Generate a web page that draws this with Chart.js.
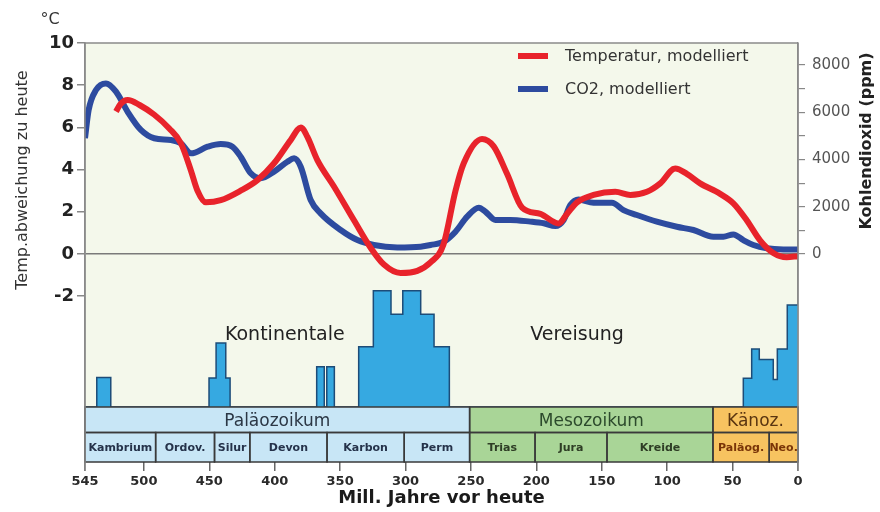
<!DOCTYPE html>
<html>
<head>
<meta charset="utf-8">
<script src="https://cdn.jsdelivr.net/npm/chart.js@4/dist/chart.umd.min.js"></script>
<style>
  html, body { margin: 0; padding: 0; background: #ffffff; }
  #wrap { width: 880px; height: 512px; }
</style>
</head>
<body>
<div id="wrap"><canvas id="chart" width="880" height="512"></canvas></div>
<script>
// Modelled temperature deviation from today (°C), millions of years before present
const tempAge   = [521.3, 518, 512.4, 503, 492, 480.6, 471.7, 464, 459, 452.6, 441.2, 426, 413.2, 400.5, 387.8, 380, 375, 367.4, 354.7, 339.4, 326.7, 316.5, 303.8, 291, 280.9, 271, 261.8, 255.5, 241.5, 232.6, 222.4, 210.9, 196.9, 183, 176.6, 168.9, 156.3, 139.7, 128.2, 115.5, 105.3, 93.9, 85, 74.8, 59.5, 49.4, 39.2, 29, 18.9, 8.6, 0];
const tempValue = [6.75, 7.1, 7.3, 7.05, 6.6, 5.95, 5.25, 3.95, 3.0, 2.45, 2.55, 3.0, 3.5, 4.3, 5.4, 6.0, 5.55, 4.45, 3.2, 1.6, 0.3, -0.5, -0.9, -0.8, -0.4, 0.45, 3.0, 4.3, 5.45, 5.1, 3.8, 2.2, 1.9, 1.45, 1.9, 2.45, 2.8, 2.95, 2.8, 2.95, 3.35, 4.05, 3.8, 3.35, 2.85, 2.4, 1.6, 0.65, 0.05, -0.15, -0.1];

// Modelled atmospheric CO2 (ppm)
const co2Age   = [545, 542.2, 536.6, 529, 521.3, 512.4, 502.3, 492.1, 479.3, 471.7, 464, 451.3, 441.2, 432.3, 426, 418.3, 410.7, 400.5, 390.3, 385.2, 380.1, 372.5, 364.9, 349.6, 336.8, 324.2, 306.3, 288.5, 280.9, 270.7, 261.8, 252.9, 244, 238.9, 231.3, 219.8, 204.6, 194.4, 185.5, 179.1, 174, 167.7, 156.3, 142.2, 133.4, 123.2, 107.9, 92.6, 79.9, 64.7, 57, 49.4, 41.8, 34.1, 23.9, 11.2, 0];
const co2Value = [4900, 6100, 6940, 7220, 6870, 6020, 5250, 4900, 4825, 4685, 4260, 4540, 4655, 4540, 4120, 3415, 3205, 3485, 3905, 4050, 3695, 2285, 1720, 1015, 590, 380, 280, 310, 380, 520, 945, 1580, 1960, 1790, 1440, 1440, 1370, 1300, 1185, 1440, 2075, 2310, 2170, 2170, 1860, 1650, 1370, 1155, 1015, 735, 735, 830, 590, 380, 240, 195, 195];

// Continental glaciation extent, step levels (each level holds until the next age)
const iceAge   = [545, 536, 525.3, 450.2, 444.8, 437.4, 434.1, 367.9, 362.1, 360.2, 354.4, 335.8, 324.6, 311.1, 302.1, 288.4, 278.2, 266.5, 41.8, 35.4, 29.6, 18.9, 15.8, 8.2, 0];
const iceLevel = [0, 9.7, 0, 9.6, 21.1, 9.6, 0, 13.3, 0, 13.3, 0, 19.9, 38.3, 30.6, 38.3, 30.6, 19.9, 0, 9.5, 19.1, 15.7, 9.1, 19.1, 33.6, 33.6];

// Axis ticks
const xTicks    = [545, 500, 450, 400, 350, 300, 250, 200, 150, 100, 50, 0];
const tempTicks = [-2, 0, 2, 4, 6, 8, 10];
const co2Ticks  = [0, 1000, 2000, 3000, 4000, 5000, 6000, 7000, 8000];

// Geological time scale
const eraNames     = ['Paläozoikum', 'Mesozoikum', 'Känoz.'];
const eraBounds    = [545, 251, 65, 0];
const periodNames  = ['Kambrium', 'Ordov.', 'Silur', 'Devon', 'Karbon', 'Perm', 'Trias', 'Jura', 'Kreide', 'Paläog.', 'Neo.'];
const periodBounds = [545, 491, 446, 419, 360, 301, 251, 201, 146, 65, 22, 0];
const periodEra    = [0, 0, 0, 0, 0, 0, 1, 1, 1, 2, 2];

const FONT = '"DejaVu Sans", "Liberation Sans", sans-serif';
const eraFill      = ['#c8e6f6', '#a9d597', '#f7c360'];
const eraTextColor = ['#2b3745', '#2c4a2c', '#5a3510'];
const periodTextColor = ['#25324a', '#2e3d25', '#7a3508'];

const toPoints = (xs, ys) => xs.map((v, i) => ({ x: v, y: ys[i] }));

const decor = {
  id: 'decor',
  beforeDraw(chart) {
    const { ctx, chartArea: a } = chart;
    ctx.save();
    ctx.fillStyle = '#f4f8eb';
    ctx.fillRect(a.left, a.top, a.right - a.left, a.bottom - a.top);
    ctx.restore();
  },
  afterDraw(chart) {
    const { ctx, chartArea: a, scales } = chart;
    const xs = scales.x, yT = scales.y;
    const top = a.bottom, mid = a.bottom + 25.5, bottom = a.bottom + 55;
    ctx.save();

    // time scale band: cells
    for (let i = 0; i < eraNames.length; i++) {
      const x0 = xs.getPixelForValue(eraBounds[i]), x1 = xs.getPixelForValue(eraBounds[i + 1]);
      ctx.fillStyle = eraFill[i];
      ctx.fillRect(x0, top, x1 - x0, bottom - top);
    }
    ctx.strokeStyle = '#3a3a3a';
    ctx.lineWidth = 1.5;
    for (let i = 0; i < eraNames.length; i++) {
      const x0 = xs.getPixelForValue(eraBounds[i]), x1 = xs.getPixelForValue(eraBounds[i + 1]);
      ctx.strokeRect(x0, top, x1 - x0, mid - top);
    }
    for (let i = 0; i < periodNames.length; i++) {
      const x0 = xs.getPixelForValue(periodBounds[i]), x1 = xs.getPixelForValue(periodBounds[i + 1]);
      ctx.strokeRect(x0, mid, x1 - x0, bottom - mid);
    }

    // time scale band: names
    ctx.textAlign = 'center';
    ctx.textBaseline = 'middle';
    ctx.font = '17px ' + FONT;
    for (let i = 0; i < eraNames.length; i++) {
      const x0 = xs.getPixelForValue(eraBounds[i]), x1 = xs.getPixelForValue(eraBounds[i + 1]);
      ctx.fillStyle = eraTextColor[i];
      ctx.fillText(eraNames[i], (x0 + x1) / 2, (top + mid) / 2 + 1.5);
    }
    ctx.font = 'bold 11px ' + FONT;
    for (let i = 0; i < periodNames.length; i++) {
      const x0 = xs.getPixelForValue(periodBounds[i]), x1 = xs.getPixelForValue(periodBounds[i + 1]);
      ctx.fillStyle = periodTextColor[periodEra[i]];
      ctx.fillText(periodNames[i], (x0 + x1) / 2, (mid + bottom) / 2 + 0.5);
    }

    // frame
    ctx.strokeStyle = '#8a8a8a';
    ctx.lineWidth = 1.5;
    ctx.beginPath();
    ctx.moveTo(a.left, a.top); ctx.lineTo(a.right, a.top);
    ctx.moveTo(a.left, a.top); ctx.lineTo(a.left, bottom + 9);
    ctx.moveTo(a.right, a.top); ctx.lineTo(a.right, bottom + 9);
    ctx.stroke();

    // glaciation captions
    ctx.fillStyle = '#222';
    ctx.font = '19px ' + FONT;
    ctx.textAlign = 'left';
    ctx.fillText('Kontinentale', xs.getPixelForValue(438), yT.getPixelForValue(-3.85));
    ctx.fillText('Vereisung', xs.getPixelForValue(204.7), yT.getPixelForValue(-3.85));

    // legend
    const lx = a.right - 280;
    const items = [['Temperatur, modelliert', '#e8232b', 56], ['CO2, modelliert', '#2d4b9f', 89]];
    ctx.font = '16px ' + FONT;
    items.forEach(([label, color, y]) => {
      ctx.strokeStyle = color;
      ctx.lineWidth = 6;
      ctx.beginPath(); ctx.moveTo(lx, y); ctx.lineTo(lx + 30, y); ctx.stroke();
      ctx.fillStyle = '#333';
      ctx.fillText(label, lx + 47, y + 1);
    });

    // unit and axis titles
    ctx.fillStyle = '#333';
    ctx.textAlign = 'center';
    ctx.font = '16px ' + FONT;
    ctx.fillText('°C', 50, 20);

    ctx.save();
    ctx.translate(23, 180);
    ctx.rotate(-Math.PI / 2);
    ctx.font = '16px ' + FONT;
    ctx.fillText('Temp.abweichung zu heute', 0, 0);
    ctx.restore();

    ctx.save();
    ctx.translate(867, 141);
    ctx.rotate(-Math.PI / 2);
    ctx.fillStyle = '#222';
    ctx.font = 'bold 16px ' + FONT;
    ctx.fillText('Kohlendioxid (ppm)', 0, 0);
    ctx.restore();

    ctx.fillStyle = '#1a1a1a';
    ctx.font = 'bold 18px ' + FONT;
    ctx.fillText('Mill. Jahre vor heute', (a.left + a.right) / 2, 498);

    ctx.restore();
  }
};

new Chart(document.getElementById('chart'), {
  type: 'line',
  data: {
    datasets: [
      {
        label: 'Temperatur, modelliert',
        data: toPoints(tempAge, tempValue),
        yAxisID: 'y',
        borderColor: '#e8232b',
        borderWidth: 6,
        pointRadius: 0,
        cubicInterpolationMode: 'monotone',
        fill: false,
        order: 1
      },
      {
        label: 'CO2, modelliert',
        data: toPoints(co2Age, co2Value),
        yAxisID: 'yCO2',
        borderColor: '#2d4b9f',
        borderWidth: 6,
        pointRadius: 0,
        cubicInterpolationMode: 'monotone',
        fill: false,
        order: 2
      },
      {
        label: 'Kontinentale Vereisung',
        data: toPoints(iceAge, iceLevel),
        yAxisID: 'yIce',
        stepped: true,
        borderColor: '#1d4c78',
        borderWidth: 1.5,
        backgroundColor: '#36a9e1',
        pointRadius: 0,
        fill: 'origin',
        order: 3
      }
    ]
  },
  options: {
    responsive: false,
    devicePixelRatio: 1,
    animation: false,
    layout: { padding: { top: 43, left: 0, right: 0, bottom: 0 } },
    plugins: {
      legend: { display: false },
      tooltip: { enabled: false },
      title: { display: false }
    },
    scales: {
      x: {
        type: 'linear',
        reverse: true,
        min: 0,
        max: 545,
        afterBuildTicks: s => { s.ticks = xTicks.map(v => ({ value: v })); },
        afterFit: s => { s.height = 105; },
        border: { display: false },
        grid: { drawOnChartArea: false, tickLength: 64, tickColor: '#666', lineWidth: 1.5 },
        ticks: {
          autoSkip: false, maxRotation: 0, padding: 3,
          color: '#2a2a2a',
          font: { family: FONT, size: 13, weight: 'bold' }
        }
      },
      y: {
        position: 'left',
        min: -7.25,
        max: 10,
        afterBuildTicks: s => { s.ticks = tempTicks.map(v => ({ value: v })); },
        afterFit: s => { s.width = 85; },
        border: { display: true, color: '#8a8a8a', width: 1.5 },
        grid: {
          color: c => (c.tick && c.tick.value === 0 ? '#7a7a7a' : 'rgba(0,0,0,0)'),
          lineWidth: 1.5,
          tickColor: '#888',
          tickLength: 8
        },
        ticks: {
          autoSkip: false, padding: 3,
          color: '#222',
          font: { family: FONT, size: 18, weight: 'bold' }
        }
      },
      yCO2: {
        position: 'right',
        min: -6476,
        max: 8931,
        afterBuildTicks: s => { s.ticks = co2Ticks.map(v => ({ value: v })); },
        afterFit: s => { s.width = 82; },
        border: { display: true, color: '#8a8a8a', width: 1.5 },
        grid: { drawOnChartArea: false, tickColor: '#888', tickLength: 7, lineWidth: 1.2 },
        ticks: {
          autoSkip: false, padding: 7,
          color: '#555',
          font: { family: FONT, size: 15 },
          callback: v => (v % 2000 === 0 ? String(v) : '')
        }
      },
      yIce: {
        display: false,
        min: 0,
        max: 120
      }
    }
  },
  plugins: [decor]
});
</script>
</body>
</html>
